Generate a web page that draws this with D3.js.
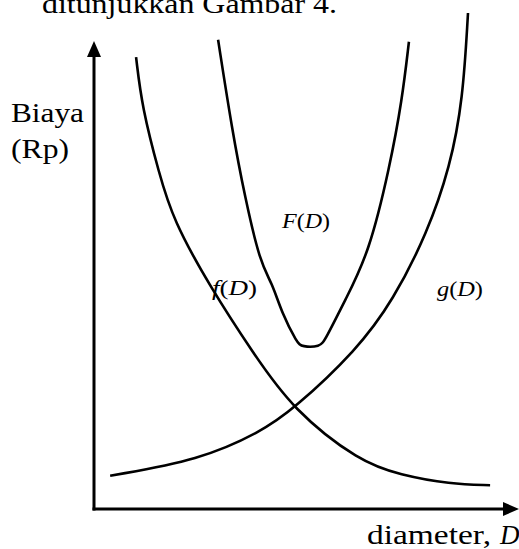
<!DOCTYPE html>
<html>
<head>
<meta charset="utf-8">
<script src="https://cdn.jsdelivr.net/npm/d3@7"></script>
<style>
  body { margin: 0; background: #fff; }
  text { font-family: "Liberation Serif"; fill: #000; }
</style>
</head>
<body>
<div id="chart"></div>
<script>
// curve points: [diameter, cost] in arbitrary units (0..100)
var fPoints = [[9.9, 91.1], [11.3, 81.0], [15.3, 67.7], [18.6, 58.3], [27.3, 44.8], [37.4, 31.5],
               [46.8, 20.0], [62.6, 9.5], [72.0, 6.9], [83.8, 5.0], [93.2, 4.8]];
var gPoints = [[3.8, 6.7], [24.9, 9.9], [39.1, 15.5], [46.8, 20.0], [61.9, 32.1], [70.4, 42.1],
               [78.4, 55.6], [83.8, 69.0], [86.8, 82.5], [88.0, 100]];
var FPoints = [[29.2, 94.6], [32.5, 76.4], [35.5, 62.9], [39.1, 49.6], [41.9, 45.6], [44.2, 39.5],
               [47.8, 33.5], [48.9, 32.7], [53.2, 32.7], [54.4, 34.1], [59.1, 42.1], [64.7, 51.6],
               [69.6, 69.0], [72.5, 82.5], [74.1, 94.2]];

var width = 519;
var height = 549;

var svg = d3.select("#chart")
    .append("svg")
    .attr("width", width)
    .attr("height", height);

// origin of the axes sits at (94, 509)
var x = d3.scaleLinear().domain([0, 100]).range([94, 519]);
var y = d3.scaleLinear().domain([0, 100]).range([509, 13]);

// axes
svg.append("line")
    .attr("x1", x(0)).attr("y1", y(0) + 1.5)
    .attr("x2", x(0)).attr("y2", 52)
    .attr("stroke", "#000").attr("stroke-width", 3);
svg.append("line")
    .attr("x1", x(0) - 1.5).attr("y1", y(0))
    .attr("x2", 510).attr("y2", y(0))
    .attr("stroke", "#000").attr("stroke-width", 3);

// arrow heads
svg.append("path")
    .attr("d", "M" + x(0) + ",41 L" + (x(0) - 7) + ",57 L" + (x(0) + 7) + ",57 Z")
    .attr("fill", "#000");
svg.append("path")
    .attr("d", "M519," + y(0) + " L503," + (y(0) - 7) + " L503," + (y(0) + 7) + " Z")
    .attr("fill", "#000");

var line = d3.line()
    .x(function (d) { return x(d[0]); })
    .y(function (d) { return y(d[1]); })
    .curve(d3.curveBasis);

[fPoints, gPoints, FPoints].forEach(function (pts) {
    svg.append("path")
        .attr("d", line(pts))
        .attr("fill", "none")
        .attr("stroke", "#000")
        .attr("stroke-width", 2.6)
        .attr("stroke-linejoin", "round");
});

// texts
function addText(str, tx, ty, size, len) {
    return svg.append("text")
        .attr("x", tx).attr("y", ty)
        .attr("font-size", size)
        .attr("textLength", len)
        .attr("lengthAdjust", "spacingAndGlyphs")
        .text(str);
}

addText("ditunjukkan Gambar 4.", 42, 13, 28, 295);
addText("Biaya", 11, 122, 27, 73);
addText("(Rp)", 11, 158, 27, 58);
addText("diameter,", 367, 544, 27, 124);

svg.append("text")
    .attr("x", 500).attr("y", 544)
    .attr("font-size", 27)
    .attr("font-style", "italic")
    .text("D");

function curveLabel(fn, tx, ty, len) {
    var t = svg.append("text")
        .attr("x", tx).attr("y", ty)
        .attr("font-size", 22)
        .attr("textLength", len)
        .attr("lengthAdjust", "spacingAndGlyphs");
    t.append("tspan").attr("font-style", "italic").text(fn);
    t.append("tspan").text("(");
    t.append("tspan").attr("font-style", "italic").text("D");
    t.append("tspan").text(")");
}

curveLabel("F", 282, 228, 48);
curveLabel("f", 212, 295, 45);
curveLabel("g", 437, 296, 46);
</script>
</body>
</html>
